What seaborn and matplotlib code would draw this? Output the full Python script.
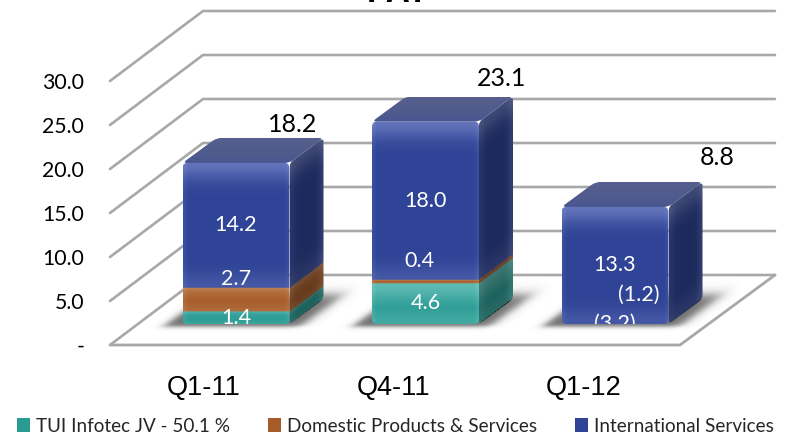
import numpy as np
import matplotlib
matplotlib.use("Agg")
import matplotlib.pyplot as plt
import seaborn as sns
from matplotlib.colors import to_rgb
from matplotlib.patches import Patch, PathPatch
from matplotlib.path import Path
from matplotlib.transforms import Bbox, TransformedBbox

quarters = ["Q1-11", "Q4-11", "Q1-12"]
tui = [1.4, 4.6, -3.2]
domestic = [2.7, 0.4, -1.2]
international = [14.2, 18.0, 13.3]
totals = [18.2, 23.1, 8.8]
yticks = [0, 5, 10, 15, 20, 25, 30]
ytick_labels = ["-", "5.0", "10.0", "15.0", "20.0", "25.0", "30.0"]
series_names = ["TUI Infotec JV - 50.1 %", "Domestic Products & Services", "International Services"]
series_colors = ["#2a9b93", "#a65c2a", "#2f4496"]
light_colors = ["#62bdb6", "#cc9469", "#6676bd"]

# px per unit, used to keep the fake 3d depth in the same proportions as the picture
SX = 189.5
SY = 8.8
BAR_W = 107 / SX
DEPTH_X = 34 / SX
DEPTH_Y = 25 / SY
# wall and floor offsets against the front plane of the bars
BACK_DY = 49 / SY
FRONT_DY = -21 / SY
LEFT_FRONT = -126 / SX
LEFT_BACK = -33 / SX
RIGHT_FRONT = 444 / SX
RIGHT_BACK = 539 / SX

sns.set_theme(style="white")
plt.rcParams["font.family"] = ["Lato", "DejaVu Sans"]

fig = plt.figure(figsize=(7.98, 4.48), dpi=100)
ax = fig.add_axes([87 / 798, 83 / 448, 711 / 798, 365 / 448])

tui_pos = np.clip(tui, 0, None)
dom_pos = np.clip(domestic, 0, None)
int_pos = np.clip(international, 0, None)
stacks = np.array([tui_pos, dom_pos, int_pos])
bottoms = np.vstack([np.zeros(3), np.cumsum(stacks, axis=0)[:-1]])

for vals, bot, col in zip(stacks, bottoms, series_colors):
    sns.barplot(x=quarters, y=vals, bottom=bot, color=col, width=BAR_W, saturation=1, ax=ax, zorder=4)
bar_patches = list(ax.patches)


def round_path(pts, r=4.0):
    # round the corners of a polygon, radius in picture pixels
    pts = np.asarray(pts, float) * [SX, SY]
    verts, codes = [], []
    n = len(pts)
    for i in range(n):
        p, a, b = pts[i], pts[i - 1], pts[(i + 1) % n]
        da = (a - p) / np.linalg.norm(a - p)
        db = (b - p) / np.linalg.norm(b - p)
        verts += [p + da * r, p, p + db * r]
        codes += [Path.MOVETO if i == 0 else Path.LINETO, Path.CURVE3, Path.CURVE3]
    verts.append(verts[0])
    codes.append(Path.CLOSEPOLY)
    return Path(np.array(verts) / [SX, SY], codes)


def shade_stack(v, k):
    # colour of bar k at height v, lighter near the segment edges
    out = np.zeros(v.shape + (3,))
    for s in range(3):
        lo, hi = bottoms[s, k], bottoms[s, k] + stacks[s, k]
        if hi <= lo:
            continue
        mask = (v >= lo) & (v <= hi + 0.001)
        if s == 2:
            mask = v >= lo
        d_top = np.clip(hi - v, 0, None) * SY
        d_bot = np.clip(v - lo, 0, None) * SY
        h = (hi - lo) * SY
        if h > 40:
            w = np.maximum(0.95 * np.exp(-((d_top / 17) ** 2)), 0.4 * np.exp(-((d_bot / 15) ** 2)))
        else:
            ln = max(h / 4, 1.0)
            w = np.maximum(0.7 * np.exp(-d_top / ln), 0.35 * np.exp(-d_bot / ln))
        base = np.array(to_rgb(series_colors[s]))
        light = np.array(to_rgb(light_colors[s]))
        col = base + (light - base) * w[..., None]
        out[mask] = col[mask]
    return out


def smooth(t, soft=5.0):
    return 1 / (1 + np.exp(-t / soft))


# walls and floor
grid_col = "#a8a8a8"
for t in yticks:
    ax.plot([LEFT_FRONT, LEFT_BACK, RIGHT_BACK], [t + FRONT_DY, t + BACK_DY, t + BACK_DY],
            color=grid_col, lw=1.9, zorder=1, solid_joinstyle="miter")
ax.plot([LEFT_FRONT, RIGHT_FRONT, RIGHT_BACK], [FRONT_DY, FRONT_DY, BACK_DY], color=grid_col, lw=2.0, zorder=1)

for k in range(3):
    left = k - BAR_W / 2
    right = k + BAR_W / 2
    top = stacks[:, k].sum()

    # soft shadow on the floor
    gx = np.linspace(left - 0.2, right + 0.45, 220)
    gy = np.linspace(-1.5, 7, 120)
    X, Y = np.meshgrid(gx, gy)
    U = (X - left) * SX - Y * SY * 34 / 25
    V = Y * SY
    a = smooth(U + 16, 3) * smooth(BAR_W * SX + 14 - U, 4) * smooth(V + 3, 1.2) * smooth(DEPTH_Y * SY + 4 - V, 3)
    rgba = np.zeros(a.shape + (4,))
    rgba[..., 3] = a * 0.72
    rgba[..., :3] = 0.22
    ax.imshow(rgba, extent=[gx[0], gx[-1], gy[0], gy[-1]], origin="lower", aspect="auto", zorder=2)

    # right side face
    side_pts = [(right, 0), (right + DEPTH_X, DEPTH_Y), (right + DEPTH_X, top + DEPTH_Y), (right, top)]
    gx = np.linspace(right, right + DEPTH_X, 40)
    gy = np.linspace(0, top + DEPTH_Y, int((top + DEPTH_Y) * SY))
    X, Y = np.meshgrid(gx, gy)
    t = (X - right) / DEPTH_X
    side = shade_stack(Y - t * DEPTH_Y, k) * 0.62
    side += (0.07 * np.exp(-((1 - t) / 0.15) ** 2) + 0.04 * np.exp(-(t / 0.15) ** 2))[..., None]
    im = ax.imshow(np.clip(side, 0, 1), extent=[gx[0], gx[-1], gy[0], gy[-1]], origin="lower", aspect="auto",
                   interpolation="bilinear", zorder=3)
    im.set_clip_path(PathPatch(round_path(side_pts, 4), transform=ax.transData))

    # top face
    top_pts = [(left, top), (left + DEPTH_X, top + DEPTH_Y), (right + DEPTH_X, top + DEPTH_Y), (right, top)]
    gx = np.linspace(left, right + DEPTH_X, 100)
    gy = np.linspace(top, top + DEPTH_Y, 30)
    X, Y = np.meshgrid(gx, gy)
    c0 = np.array(to_rgb("#47558f"))
    c1 = np.array(to_rgb("#565f8c"))
    face = c0 + (c1 - c0) * ((Y - top) / DEPTH_Y)[..., None] ** 0.6
    im = ax.imshow(face, extent=[gx[0], gx[-1], gy[0], gy[-1]], origin="lower", aspect="auto",
                   interpolation="bilinear", zorder=3)
    im.set_clip_path(PathPatch(round_path(top_pts, 5), transform=ax.transData))

    # front face, on top of the seaborn bars
    front_path = round_path([(left, 0), (left, top), (right, top), (right, 0)], 5)
    gx = np.linspace(left, right, 108)
    gy = np.linspace(0, top, int(top * SY) * 2)
    X, Y = np.meshgrid(gx, gy)
    front = shade_stack(Y, k)
    edge = np.maximum(np.exp(-((X - left) * SX / 3) ** 2), np.exp(-((right - X) * SX / 3) ** 2))
    front = np.clip(front + edge[..., None] * 0.04, 0, 1)
    im = ax.imshow(front, extent=[left, right, 0, top], origin="lower", aspect="auto",
                   interpolation="bilinear", zorder=5)
    im.set_clip_path(PathPatch(front_path, transform=ax.transData))

for p in bar_patches:
    p.set_visible(False)

# labels inside the bars
for k, val in enumerate(international):
    ax.text(k, bottoms[2, k] + val / 2, f"{val:.1f}", color="white", ha="center", va="center", fontsize=15.5, zorder=6)
for k, val in enumerate(domestic):
    txt = f"{val:.1f}" if val > 0 else f"({-val:.1f})"
    yy = [5.1, 7.2, 3.3][k]
    xx = [0, -0.03, 0.125][k]
    ax.text(k + xx, yy, txt, color="white", ha="center", va="center", fontsize=15.5, zorder=6)
for k, val in enumerate(tui):
    txt = f"{val:.1f}" if val > 0 else f"({-val:.1f})"
    yy = [0.68, 2.4, 0.0][k]
    t = ax.text(k, yy, txt, color="white", ha="center", va="center", fontsize=15.5, zorder=6)
    t.set_clip_on(True)
    t.set_clip_box(TransformedBbox(Bbox([[k - 0.5, 0.0], [k + 0.5, 6]]), ax.transData))

# totals above the bars
total_xy = [(0.3, 22.65), (1.4, 27.9), (2.54, 18.9)]
for (x, y), val in zip(total_xy, totals):
    ax.text(x, y, f"{val:.1f}", color="black", ha="center", va="center", fontsize=18, zorder=6)

ax.set_xlim(-149 / SX, 562 / SX)
ax.set_ylim(-41 / SY, 324 / SY)
sns.despine(ax=ax, left=True, bottom=True)
ax.set_xlabel("")
ax.set_ylabel("")
ax.set_xticks(np.arange(3) - 0.168, quarters, fontsize=19.5, family="Liberation Sans", color="black")
ax.set_yticks(np.array(yticks) + FRONT_DY, ytick_labels, fontsize=15.3, color="black")
ax.tick_params(axis="x", length=0, pad=7)
ax.tick_params(axis="y", length=0, pad=2)
ax.patch.set_alpha(0)

fig.text(398 / 798, 1 - 2.5 / 448, "PAT", ha="center", va="baseline", fontsize=24, fontweight="bold",
         family="Liberation Sans", color="black")

handles = [Patch(facecolor=c, edgecolor="none") for c in series_colors]
fig.legend(handles, series_names, loc="center left", bbox_to_anchor=(17 / 798, 1 - 426 / 448), ncol=3, frameon=False,
           fontsize=13.6, handlelength=0.7, handleheight=0.7, handletextpad=0.32, columnspacing=2.0, borderpad=0,
           borderaxespad=0)

fig.savefig("out.png", dpi=100)
